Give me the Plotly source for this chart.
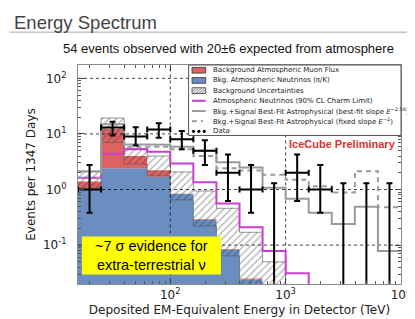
import math
import plotly.graph_objects as go

# ---------------- data ----------------
bin_edges = [15.85, 25.12, 39.81, 63.10, 100.0, 158.5, 251.2, 398.1, 631.0,
             1000.0, 1585.0, 2512.0, 3981.0, 6310.0, 10000.0]          # TeV
atm_nu     = [0.98, 2.42, 2.42, 1.70, 0.83, 0.29, 0.083, 0.024, 0.010, 0.004, 0.002, 0.001, 0.001, 0.001]
bkg_total  = [1.40, 12.2, 4.00, 2.22, 0.84, 0.295, 0.085, 0.025, 0.010, 0.004, 0.002, 0.001, 0.001, 0.001]
unc_low    = [1.06, 7.00, 2.87, 1.75, 0.65, 0.22, 0.064, 0.018, 0.006, 0.003, 0.001, 0.001, 0.001, 0.001]
unc_high   = [2.15, 19.3, 5.50, 4.00, 2.07, 0.94, 0.46, 0.17, 0.050, 0.010, 0.005, 0.003, 0.002, 0.002]
charm_lim  = [1.63, 4.40, 5.30, 4.80, 2.95, 1.35, 0.56, 0.21, 0.078, 0.031, 0.008, 0.004, 0.002, 0.001]
best_fit   = [2.10, 15.0, 6.50, 6.40, 5.90, 5.00, 3.10, 2.50, 1.07, 0.68, 0.38, 0.24, 0.49, 0.078]
fixed_e2   = [1.60, 12.5, 5.90, 5.90, 5.30, 4.00, 2.40, 2.20, 1.85, 1.50, 1.15, 0.88, 2.13, 0.48]
data_counts = [1, 13, 9, 12, 8, 5, 2, 1, 0, 2, 1, 0, 0, 0]
data_upper  = [2.76, 16.6, 13.2, 15.5, 11.3, 7.7, 4.25, 2.76, 1.29, 4.25, 2.76, 1.29, 1.29, 1.29]
data_lower  = [0.38, 9.4, 6.2, 8.5, 5.3, 2.76, 0.62, 0.38, 0.0, 0.62, 0.38, 0.0, 0.0, 0.0]

x_tickvals = [100, 1000, 10000]
x_ticktext = ["10<sup>2</sup>", "10<sup>3</sup>", "10<sup>4</sup>"]
y_tickvals = [0.1, 1, 10, 100]
y_ticktext = ["10<sup>-1</sup>", "10<sup>0</sup>", "10<sup>1</sup>", "10<sup>2</sup>"]

FLOOR = 1e-3   # below visible range, used as histogram baseline

BLUE = "#6a8ec0"
RED = "#df6262"
MAGENTA = "#c93fcf"
GRAY = "#9a9a9a"

def step(vals):
    xs, ys = [], []
    for i, v in enumerate(vals):
        xs += [bin_edges[i], bin_edges[i + 1]]
        ys += [v, v]
    return xs, ys

fig = go.Figure()

# atmospheric neutrinos (blue)
sx, sy = step(atm_nu)
fig.add_trace(go.Scatter(x=sx + [bin_edges[-1], bin_edges[0]], y=sy + [FLOOR, FLOOR],
                         fill="toself", fillcolor=BLUE, mode="lines", line=dict(width=0),
                         hoverinfo="skip", showlegend=False))
# muon flux (red) on top
ux, uy = step(bkg_total)
fig.add_trace(go.Scatter(x=ux + sx[::-1], y=uy + sy[::-1],
                         fill="toself", fillcolor=RED, mode="lines", line=dict(width=0),
                         hoverinfo="skip", showlegend=False))
# background uncertainty (hatched)
hx, hy = step(unc_high)
lx, ly = step(unc_low)
fig.add_trace(go.Scatter(x=hx + lx[::-1], y=hy + ly[::-1],
                         fill="toself", fillcolor="rgba(0,0,0,0)",
                         fillpattern=dict(shape="/", fgcolor="rgba(40,40,40,0.75)",
                                          bgcolor="rgba(0,0,0,0)", size=5, solidity=0.25),
                         mode="lines", line=dict(width=0.8, color="rgba(90,90,90,0.8)"),
                         hoverinfo="skip", showlegend=False))

# dotted grid above fills
for yv in y_tickvals:
    fig.add_trace(go.Scatter(x=[bin_edges[0], bin_edges[-1]], y=[yv, yv], mode="lines",
                             line=dict(color="rgba(0,0,0,0.75)", width=1, dash="dot"),
                             hoverinfo="skip", showlegend=False))
for xv in x_tickvals[:2]:
    fig.add_trace(go.Scatter(x=[xv, xv], y=[0.005, 1000], mode="lines",
                             line=dict(color="rgba(0,0,0,0.75)", width=1, dash="dot"),
                             hoverinfo="skip", showlegend=False))

# charm limit (magenta)
cx, cy = step(charm_lim)
fig.add_trace(go.Scatter(x=cx, y=cy, mode="lines", line=dict(color=MAGENTA, width=2),
                         hoverinfo="skip", showlegend=False))
# best-fit and fixed slope (gray)
bx, by = step(best_fit)
fig.add_trace(go.Scatter(x=bx, y=by, mode="lines", line=dict(color=GRAY, width=2),
                         hoverinfo="skip", showlegend=False))
fx, fy = step(fixed_e2)
fig.add_trace(go.Scatter(x=fx, y=fy, mode="lines", line=dict(color=GRAY, width=2, dash="5px,4px"),
                         hoverinfo="skip", showlegend=False))

# data
cen = [math.sqrt(bin_edges[i] * bin_edges[i + 1]) for i in range(len(data_counts))]
nz = [i for i, c in enumerate(data_counts) if c > 0]
zz = [i for i, c in enumerate(data_counts) if c == 0]
fig.add_trace(go.Scatter(
    x=[cen[i] for i in nz], y=[data_counts[i] for i in nz], mode="markers",
    marker=dict(size=2, color="black"),
    error_y=dict(type="data", symmetric=False,
                 array=[data_upper[i] - data_counts[i] for i in nz],
                 arrayminus=[data_counts[i] - data_lower[i] for i in nz],
                 color="black", thickness=2, width=3),
    error_x=dict(type="data", symmetric=False,
                 array=[bin_edges[i + 1] - cen[i] for i in nz],
                 arrayminus=[cen[i] - bin_edges[i] for i in nz],
                 color="black", thickness=2, width=3),
    hoverinfo="skip", showlegend=False))
fig.add_trace(go.Scatter(
    x=[cen[i] for i in zz], y=[FLOOR for i in zz], mode="markers",
    marker=dict(size=1, color="black"),
    error_y=dict(type="data", symmetric=False,
                 array=[data_upper[i] - FLOOR for i in zz],
                 arrayminus=[0 for i in zz],
                 color="black", thickness=2, width=3),
    hoverinfo="skip", showlegend=False))

# ---------------- layout ----------------
L, R, T, B = 70, 15, 57, 32
W, H = 415, 319
PW, PH = W - L - R, H - T - B

def px(x):
    return (x - L) / PW

def py(y):
    return (H - B - y) / PH

x_minor = [m * 10 ** d for d in range(1, 4) for m in range(2, 10) if m * 10 ** d > bin_edges[0]]
y_minor = [m * 10.0 ** d for d in range(-2, 3) for m in range(2, 10)]

axis_common = dict(type="log", showline=True, linecolor="#8c8c8c", linewidth=1, mirror="ticks",
                   ticks="inside", ticklen=6, tickcolor="#444", showgrid=False, zeroline=False,
                   tickmode="array", ticklabeloverflow="allow",
                   tickfont=dict(family="DejaVu Sans", size=12, color="#222"))

fig.update_layout(
    width=W, height=H, margin=dict(l=L, r=R, t=T, b=B),
    paper_bgcolor="white", plot_bgcolor="white",
    showlegend=False,
    xaxis=dict(axis_common, range=[math.log10(bin_edges[0]), math.log10(bin_edges[-1])],
               tickvals=x_tickvals, ticktext=x_ticktext,
               minor=dict(tickmode="array", tickvals=x_minor, ticks="inside", ticklen=3,
                          tickcolor="#555", showgrid=False),
               title=dict(text="Deposited EM-Equivalent Energy in Detector (TeV)",
                          font=dict(family="DejaVu Sans", size=12, color="#222"), standoff=4)),
    yaxis=dict(axis_common, range=[-1.7, 2.24], ticklabelstandoff=8,
               tickvals=y_tickvals, ticktext=y_ticktext,
               minor=dict(tickmode="array", tickvals=y_minor, ticks="inside", ticklen=3,
                          tickcolor="#555", showgrid=False),
               title=dict(text="Events per 1347 Days",
                          font=dict(family="DejaVu Sans", size=12, color="#222"), standoff=4)),
)

shapes = []
annotations = []

# slide title + rule
annotations.append(dict(text="Energy Spectrum", xref="paper", yref="paper", x=px(3), y=py(12),
                        xanchor="left", yanchor="middle", showarrow=False,
                        font=dict(family="Liberation Sans", size=18.5, color="#444")))
shapes.append(dict(type="line", xref="paper", yref="paper", x0=px(0), x1=px(407), y0=py(22.5), y1=py(22.5),
                   line=dict(color="#a8a8a8", width=1)))
annotations.append(dict(text="54 events observed with 20±6 expected from atmosphere", xref="paper", yref="paper",
                        x=px(224), y=py(40), xanchor="center", yanchor="middle", showarrow=False,
                        font=dict(family="Liberation Sans", size=13, color="#111")))

# IceCube Preliminary
annotations.append(dict(text="<b>IceCube Preliminary</b>", xref="paper", yref="paper", x=px(397), y=py(140),
                        xanchor="right", yanchor="middle", showarrow=False,
                        font=dict(family="Liberation Sans", size=11, color="#e0302f")))

# yellow box
shapes.append(dict(type="rect", xref="paper", yref="paper", x0=px(74), x1=px(216), y0=py(237), y1=py(277),
                   fillcolor="#ffff00", line=dict(width=0), layer="above"))
annotations.append(dict(text="~7 σ evidence for<br>extra-terrestrial ν", xref="paper", yref="paper",
                        x=px(145), y=py(257.5), xanchor="center", yanchor="middle", showarrow=False,
                        align="center", font=dict(family="Liberation Sans", size=14.5, color="black")))

# legend box
shapes.append(dict(type="rect", xref="paper", yref="paper", x0=px(183), x1=px(400), y0=py(57), y1=py(131),
                   fillcolor="white", line=dict(color="#555", width=1), layer="above"))
leg_labels = ["Background Atmospheric Muon Flux",
              "Bkg. Atmospheric Neutrinos (π/K)",
              "Background Uncertainties",
              "Atmospheric Neutrinos (90% CL Charm Limit)",
              "Bkg.+Signal Best-Fit Astrophysical (best-fit slope <i>E</i><sup>−2.58</sup>)",
              "Bkg.+Signal Best-Fit Astrophysical (fixed slope <i>E</i><sup>−2</sup>)",
              "Data"]
for k, lab in enumerate(leg_labels):
    yc = 62.5 + 10.7 * k
    annotations.append(dict(text=lab, xref="paper", yref="paper", x=px(206), y=py(yc),
                            xanchor="left", yanchor="middle", showarrow=False,
                            font=dict(family="DejaVu Sans", size=7, color="#222")))
    x0, x1 = 186.5, 200.5
    if k in (0, 1, 2):
        fc = [RED, BLUE, "white"][k]
        shapes.append(dict(type="rect", xref="paper", yref="paper", x0=px(x0), x1=px(x1),
                           y0=py(yc + 3), y1=py(yc - 3), fillcolor=fc,
                           line=dict(color="#333", width=0.8), layer="above"))
        if k == 2:
            for j in range(5):
                xa = x0 + 3 * j - 2
                shapes.append(dict(type="line", xref="paper", yref="paper",
                                   x0=px(max(xa, x0)), y0=py(yc + 3 - (max(xa, x0) - xa)),
                                   x1=px(min(xa + 6, x1)), y1=py(yc - 3 + (xa + 6 - min(xa + 6, x1))),
                                   line=dict(color="#444", width=0.8), layer="above"))
    elif k == 3:
        shapes.append(dict(type="line", xref="paper", yref="paper", x0=px(x0), x1=px(x1), y0=py(yc), y1=py(yc),
                           line=dict(color=MAGENTA, width=2), layer="above"))
    elif k == 4:
        shapes.append(dict(type="line", xref="paper", yref="paper", x0=px(x0), x1=px(x1), y0=py(yc), y1=py(yc),
                           line=dict(color=GRAY, width=2), layer="above"))
    elif k == 5:
        for a, b in [(x0, x0 + 5), (x0 + 9, x0 + 11)]:
            shapes.append(dict(type="line", xref="paper", yref="paper", x0=px(a), x1=px(b), y0=py(yc), y1=py(yc),
                               line=dict(color=GRAY, width=2), layer="above"))
    else:
        for xc in (188, 193.5, 199):
            shapes.append(dict(type="circle", xref="paper", yref="paper", x0=px(xc - 1.6), x1=px(xc + 1.6),
                               y0=py(yc - 1.6), y1=py(yc + 1.6), fillcolor="black",
                               line=dict(width=0), layer="above"))

fig.update_layout(shapes=shapes, annotations=annotations)
fig.write_html("out.html")
